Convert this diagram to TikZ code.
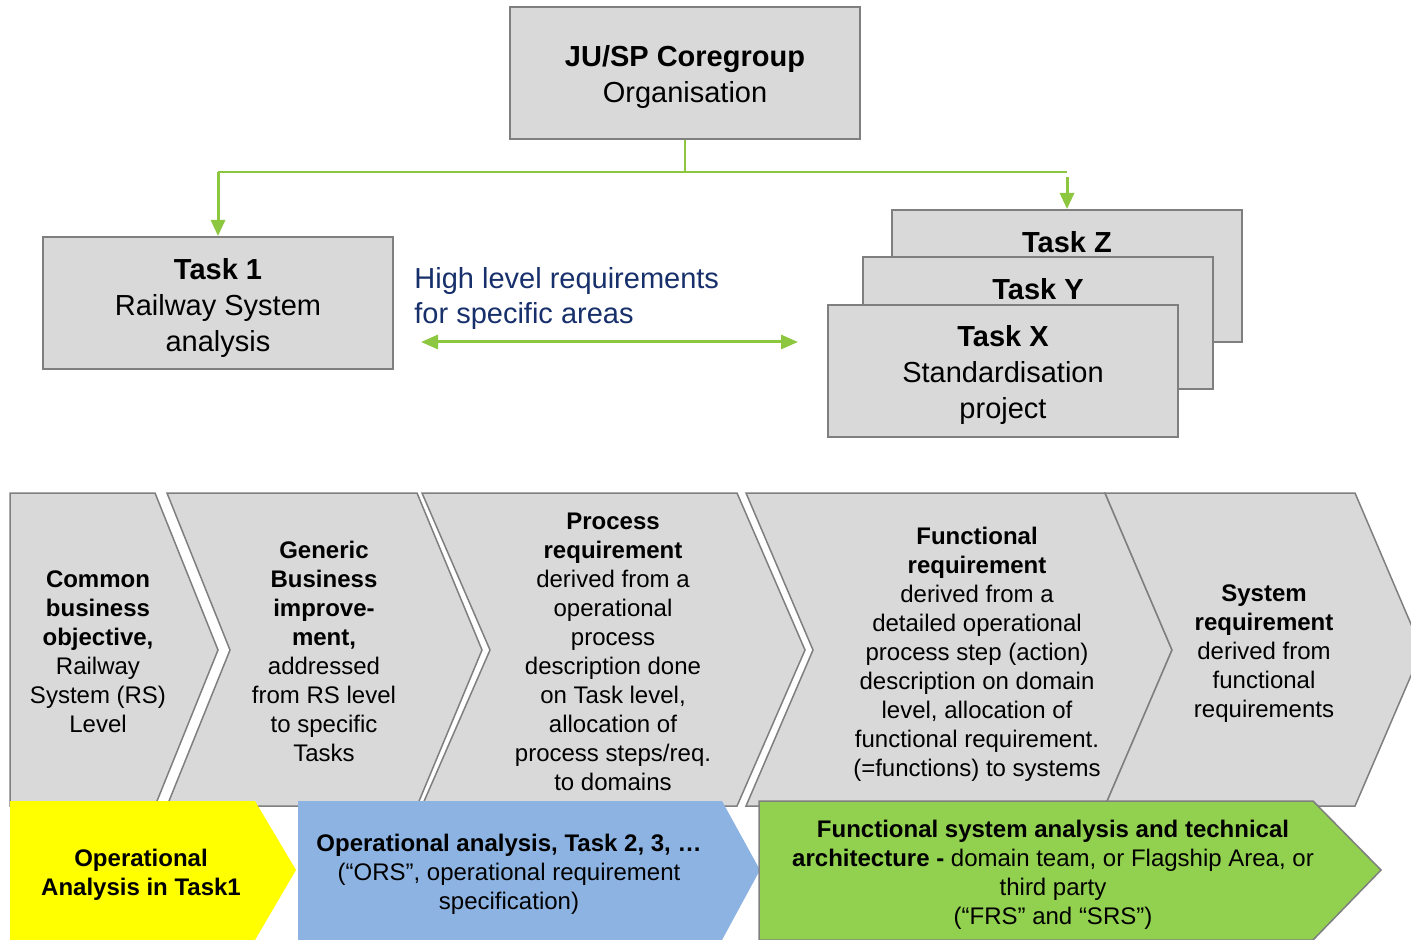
\documentclass[tikz,border=0pt]{standalone}
\usepackage{fontspec}
\setmainfont{Liberation Sans}
\usetikzlibrary{arrows.meta}
\definecolor{boxgray}{HTML}{D9D9D9}
\definecolor{edgegray}{HTML}{7F7F7F}
\definecolor{arrgreen}{HTML}{8DC63F}
\definecolor{navy}{HTML}{17306B}
\definecolor{bandyellow}{HTML}{FFFF00}
\definecolor{bandblue}{HTML}{8DB3E2}
\definecolor{bandgreen}{HTML}{92D050}
\begin{document}
\begin{tikzpicture}[x=0.5pt,y=-0.5pt,
  box/.style={draw=edgegray, fill=boxgray, line width=1pt, minimum width=175pt, minimum height=66pt, inner sep=0pt},
  boxtext/.style={inner sep=0pt, align=center, font=\fontsize{14.5}{18}\selectfont},
  boxlabel/.style={inner sep=0pt, font=\fontsize{14.5}{18}\selectfont\bfseries},
  chev/.style={draw=edgegray, fill=boxgray, line width=0.75pt, line join=miter},
  chevtext/.style={align=center, font=\fontsize{12}{14.5}\selectfont, inner sep=0pt},
  band/.style={draw=none},
  bandtext/.style={align=center, font=\fontsize{12}{14.5}\selectfont, inner sep=0pt},
  gline/.style={draw=arrgreen, line width=1pt},
  garrow/.style={draw=arrgreen, line width=1.5pt, -{Triangle[length=8pt,width=7pt]}},
  gdarrow/.style={draw=arrgreen, line width=1.5pt, {Triangle[length=8.5pt,width=7pt]}-{Triangle[length=8.5pt,width=7pt]}}
]
\useasboundingbox (0,0) rectangle (1411,940);
\clip (0,0) rectangle (1411,940);
\fill[white] (0,0) rectangle (1411,940);

% top box
\node[box] (top) at (685,73) {};
\node[boxtext] (toptext) at (685,77) {\textbf{JU/SP Coregroup}\\Organisation};

% task boxes
\node[box] (t1) at (218,303) {};
\node[boxtext] (t1text) at (218,308) {\textbf{Task 1}\\Railway System\\analysis};
\node[box] (tz) at (1067,276) {};
\node[boxlabel] (tzl) at (1067,242) {Task Z};
\node[box] (ty) at (1038,323) {};
\node[boxlabel] (tyl) at (1038,289) {Task Y};
\node[box] (tx) at (1003,371) {};
\node[boxtext] (txtext) at (1003,375) {\textbf{Task X}\\Standardisation\\project};

% connectors
\coordinate (jM) at (685,172);
\coordinate (jL) at (218,172);
\coordinate (jR) at (1067,172);
\coordinate (jR2) at (1067,177);
\draw[gline] (top.south) -- (jM);
\draw[gline] (jL) -- (jR);
\draw[garrow] (jL) -- (t1.north);
\draw[garrow] (jR2) -- (tz.north);

% high level requirements
\node[anchor=west, align=left, inner sep=0pt, text=navy, font=\fontsize{14.5}{17.5}\selectfont] (hlr) at (414,299) {High level requirements\\for specific areas};
\coordinate (hl) at (421,342);
\coordinate (hr) at (798,342);
\draw[gdarrow] (hl) -- (hr);

% chevrons
\path[chev] (10,493) -- (155,493) -- (218,650) -- (155,806) -- (10,806) -- cycle;
\path[chev] (167,493) -- (417,493) -- (482,650) -- (417,806) -- (167,806) -- (230,650) -- cycle;
\path[chev] (422,493) -- (737,493) -- (805,650) -- (737,806) -- (422,806) -- (490,650) -- cycle;
\path[chev] (746,493) -- (1105,493) -- (1172,650) -- (1105,806) -- (746,806) -- (813,650) -- cycle;
\path[chev] (1105,493) -- (1355,493) -- (1422,650) -- (1355,806) -- (1105,806) -- (1172,650) -- cycle;

\node[chevtext] (c1) at (98,652) {\textbf{Common}\\\textbf{business}\\\textbf{objective,}\\Railway\\System (RS)\\Level};
\node[chevtext] (c2) at (324,651) {\textbf{Generic}\\\textbf{Business}\\\textbf{improve-}\\\textbf{ment,}\\addressed\\from RS level\\to specific\\Tasks};
\node[chevtext] (c3) at (613,652) {\textbf{Process}\\\textbf{requirement}\\derived from a\\operational\\process\\description done\\on Task level,\\allocation of\\process steps/req.\\to domains};
\node[chevtext] (c4) at (977,654) {\textbf{Functional}\\\textbf{requirement}\\derived from a\\detailed operational\\process step (action)\\description on domain\\level, allocation of\\functional requirement.\\(=functions) to systems};
\node[chevtext] (c5) at (1264,654) {\textbf{System}\\\textbf{requirement}\\derived from\\functional\\requirements};

% bottom bands
\path[band, fill=bandyellow] (10,801) -- (255,801) -- (296,870) -- (255,940) -- (10,940) -- cycle;
\path[band, fill=bandblue] (298,801) -- (722,801) -- (760,870) -- (722,940) -- (298,940) -- cycle;
\path[band, fill=bandgreen, draw=edgegray, line width=0.75pt] (759,801) -- (1313,801) -- (1381,870) -- (1313,940) -- (759,940) -- cycle;

\node[bandtext] (b1) at (141,875) {\textbf{Operational}\\\textbf{Analysis in Task1}};
\node[bandtext] (b2) at (509,874) {\textbf{Operational analysis, Task 2, 3, …}\\(“ORS”, operational requirement\\specification)};
\node[bandtext] (b3) at (1053,875) {\textbf{Functional system analysis and technical}\\\textbf{architecture -} domain team, or Flagship Area, or\\third party\\(“FRS” and “SRS”)};
\end{tikzpicture}
\end{document}
